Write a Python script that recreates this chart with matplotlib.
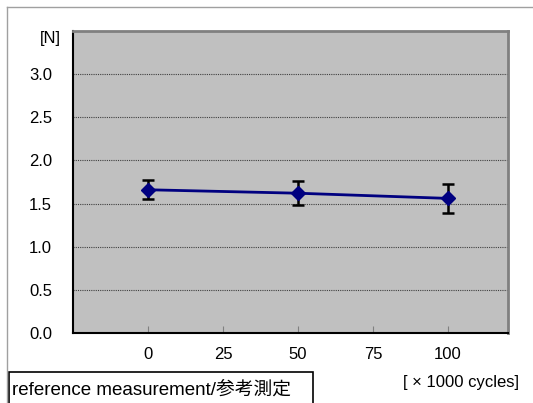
import matplotlib.pyplot as plt
from matplotlib.lines import Line2D
from matplotlib.patches import Rectangle

plt.rcParams['font.family'] = ['Liberation Sans', 'Noto Sans CJK JP', 'DejaVu Sans']

cycles = [0, 50, 100]
force = [1.66, 1.62, 1.56]
force_err = [0.11, 0.14, 0.17]
x_ticks = [0, 25, 50, 75, 100]
y_ticks = [0.0, 0.5, 1.0, 1.5, 2.0, 2.5, 3.0]

W, H = 533, 403
fig = plt.figure(figsize=(W / 100, H / 100), dpi=100)
ax = fig.add_axes([73 / W, 1 - 333 / H, (508 - 73) / W, (333 - 31) / H])
ax.set_facecolor('#c0c0c0')

ax.errorbar(cycles, force, yerr=force_err, color='#000080', lw=2,
            marker='D', ms=7.5, ecolor='black', elinewidth=1.8,
            capsize=4, capthick=1.8, zorder=3)

ax.set_xlim(-25, 120)
ax.set_ylim(0, 3.5)
ax.set_xticks(x_ticks)
ax.set_yticks(y_ticks)
ax.set_yticklabels([f'{v:.1f}' for v in y_ticks])
ax.yaxis.grid(True, color='#404040', ls=(0, (1, 1)), lw=0.8)
ax.set_axisbelow(True)

fs = 12
ax.tick_params(axis='x', direction='in', length=5, color='#808080', pad=10, labelsize=fs)
ax.tick_params(axis='y', length=0, pad=15, labelsize=fs)

for s in ['left', 'bottom']:
    ax.spines[s].set_color('black')
    ax.spines[s].set_linewidth(1.5)
for s in ['top', 'right']:
    ax.spines[s].set_color('#808080')
    ax.spines[s].set_linewidth(2)

fig.text(61 / W, 1 - 38 / H, '[N]', ha='right', va='center', fontsize=fs)
fig.text(461 / W, 1 - 383 / H, '[ × 1000 cycles]', ha='center', va='center', fontsize=fs)

# outer frame
fig.add_artist(Line2D([7 / W, 7 / W], [0, 1 - 7 / H], color='#a0a0a0', lw=1))
fig.add_artist(Line2D([7 / W, 1], [1 - 7 / H, 1 - 7 / H], color='#a0a0a0', lw=1))

# note box
fig.add_artist(Rectangle((9 / W, -0.01), (313 - 9) / W, (0.01 + 1 - 372 / H),
                         transform=fig.transFigure, fill=False, ec='black', lw=1.2))
fig.text(12 / W, 1 - 390 / H, 'reference measurement/参考測定', ha='left', va='center', fontsize=13.5)

fig.savefig('out.png', dpi=100)
